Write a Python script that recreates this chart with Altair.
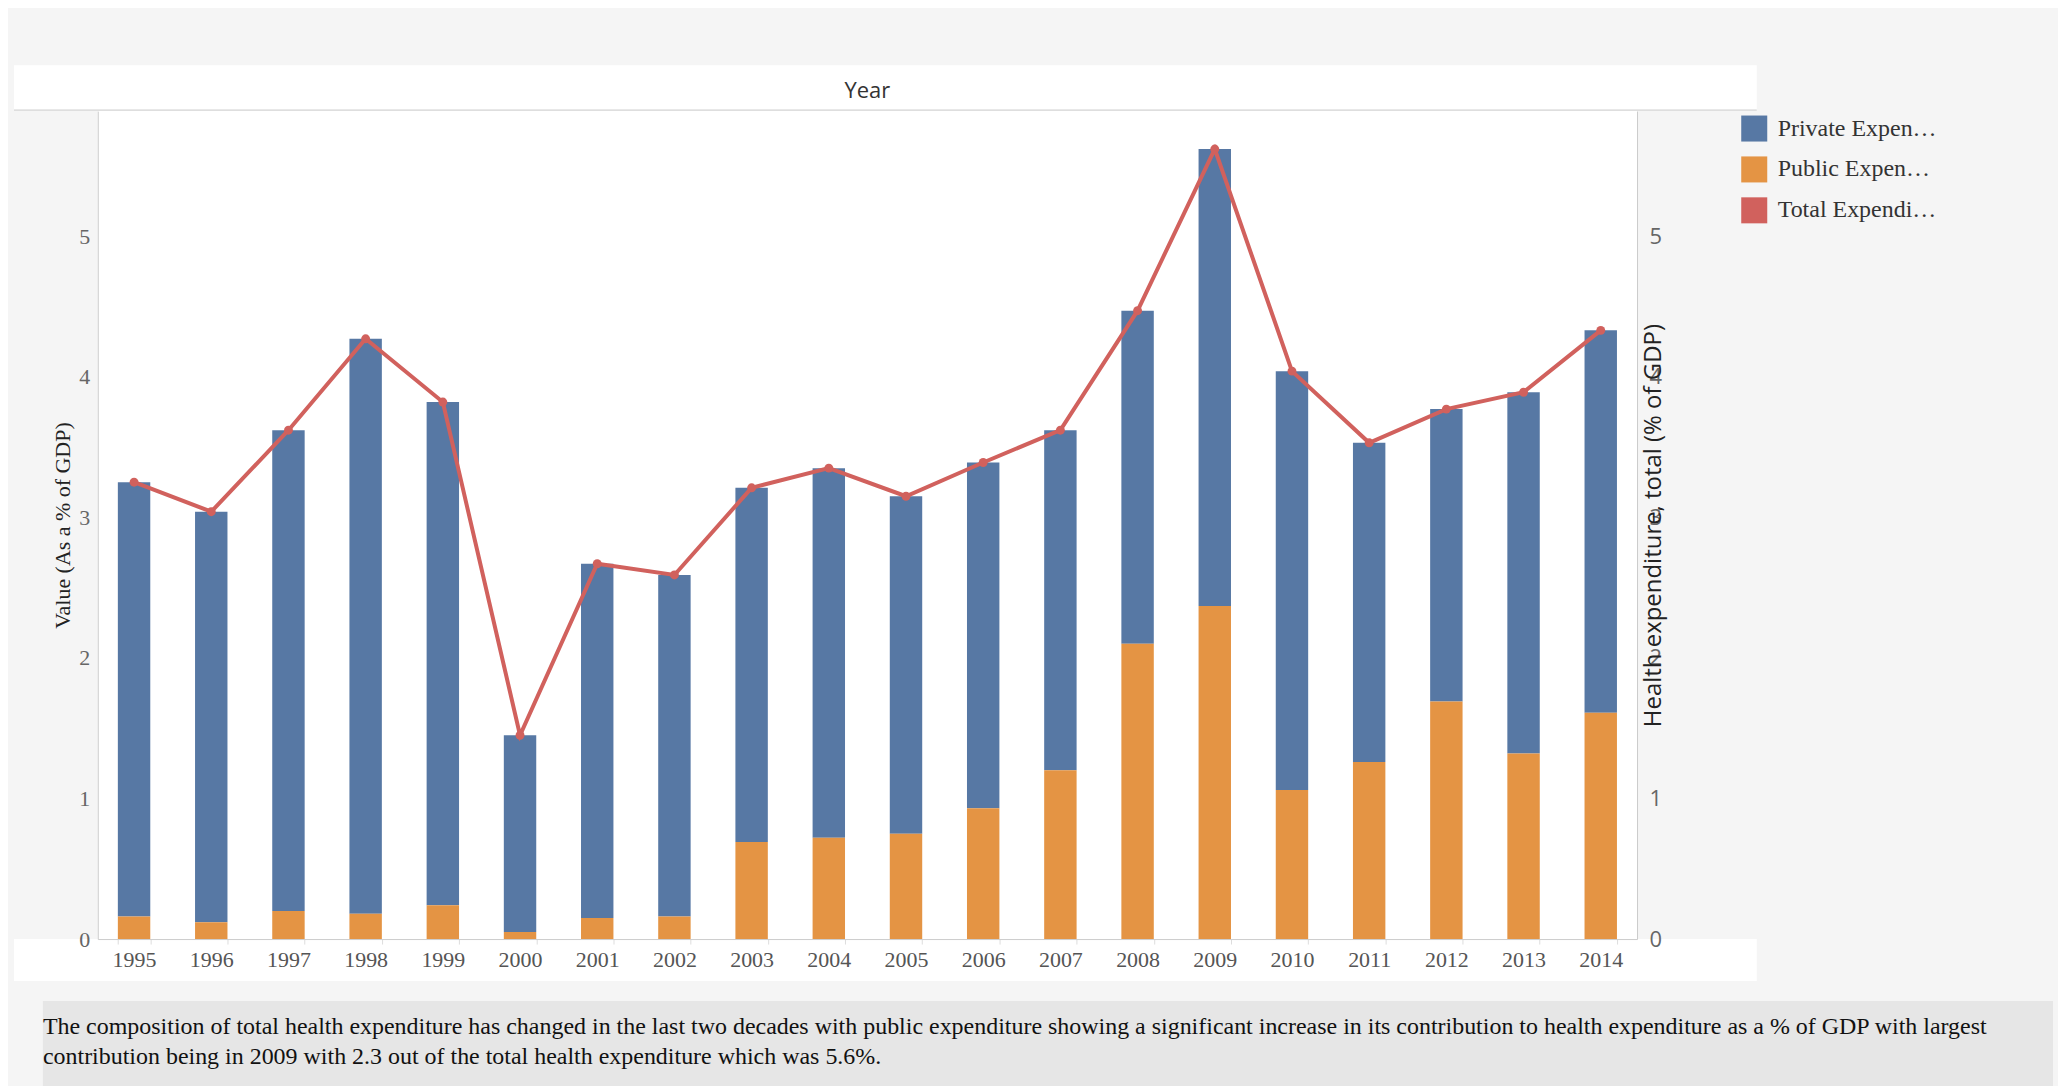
import altair as alt
import pandas as pd

years = [str(y) for y in range(1995, 2015)]
total = [3.25, 3.04, 3.62, 4.27, 3.82, 1.45, 2.67, 2.59, 3.21, 3.35,
         3.15, 3.39, 3.62, 4.47, 5.62, 4.04, 3.53, 3.77, 3.89, 4.33]
public = [0.16, 0.12, 0.20, 0.18, 0.24, 0.05, 0.15, 0.16, 0.69, 0.72,
          0.75, 0.93, 1.20, 2.10, 2.37, 1.06, 1.26, 1.69, 1.32, 1.61]
private = [round(t - p, 2) for t, p in zip(total, public)]
caption = [
    "The composition of total health expenditure has changed in the last two decades with public expenditure showing a significant increase in its contribution to health expenditure as a % of GDP with largest",
    "contribution being in 2009 with 2.3 out of the total health expenditure which was 5.6%.",
]

SERIES = ["Private Expenditure", "Public Expenditure", "Total Expenditure"]
COLORS = ["#5778a4", "#e49444", "#d1615d"]

bars_df = pd.DataFrame({
    "Year": years * 2,
    "series": ["Private Expenditure"] * 20 + ["Public Expenditure"] * 20,
    "value": private + public,
    "order": [2] * 20 + [1] * 20,
})
line_df = pd.DataFrame({"Year": years, "series": "Total Expenditure", "value": total})

W, H = 1543, 830
YMAX = 5.89
SERIF = "Liberation Serif"
SANS = "Open Sans"
one = pd.DataFrame({"t": ["Year"]})

color = alt.Color(
    "series:N",
    scale=alt.Scale(domain=SERIES, range=COLORS),
    legend=alt.Legend(
        title=None, orient="none", legendX=W + 104, legendY=4,
        symbolType="square", symbolSize=680, labelFont=SERIF, labelFontSize=24,
        labelColor="#333", rowPadding=14, symbolStrokeWidth=0, labelOffset=10,
    ),
)
xenc = alt.X(
    "Year:N",
    scale=alt.Scale(paddingInner=0.58, paddingOuter=0.26),
    axis=alt.Axis(title=None, labelAngle=0, labelFont=SERIF, labelFontSize=22,
                  labelColor="#555", domainColor="#ccc", tickColor="#ddd",
                  tickBand="extent", labelPadding=6, zindex=2),
)
yscale = alt.Scale(domain=[0, YMAX], nice=False)

# white backdrops for the header and the axis-label strip, plus the caption box
header = alt.Chart(one).mark_rect(color="white").encode(
    x=alt.value(-84), x2=alt.value(W + 120), y=alt.value(-46), y2=alt.value(-1))
header_line = alt.Chart(one).mark_rule(color="#ccc").encode(
    x=alt.value(-84), x2=alt.value(W + 120), y=alt.value(-1))
bottom = alt.Chart(one).mark_rect(color="white").encode(
    x=alt.value(-84), x2=alt.value(W + 120), y=alt.value(H), y2=alt.value(H + 42))
header_text = alt.Chart(one).mark_text(font=SANS, fontSize=22, color="#333").encode(
    text="t:N", x=alt.value(W / 2), y=alt.value(-20))
cap_box = alt.Chart(one).mark_rect(color="#e6e6e6").encode(
    x=alt.value(-55), x2=alt.value(1960), y=alt.value(H + 62), y2=alt.value(H + 151))
cap_text = alt.Chart(pd.DataFrame({"t": [caption]})).mark_text(
    font=SERIF, fontSize=24, color="#111", align="left", baseline="top", lineHeight=30).encode(
    text="t", x=alt.value(-55), y=alt.value(H + 76))

bars = alt.Chart(bars_df).mark_bar().encode(
    x=xenc,
    y=alt.Y("value:Q", stack="zero", scale=yscale,
            axis=alt.Axis(title="Value (As a % of GDP)", values=[0, 1, 2, 3, 4, 5],
                          grid=False, ticks=False, labelFont=SERIF, labelFontSize=22,
                          labelColor="#666", titleFont=SERIF, titleFontSize=22,
                          titleFontWeight="normal", titleColor="#222",
                          domainColor="#ccc", labelPadding=8, zindex=2)),
    color=color,
    order=alt.Order("order:Q"),
)
line = alt.Chart(line_df).mark_line(strokeWidth=4, point=alt.OverlayMarkDef(size=80, filled=True)).encode(
    x=alt.X("Year:N"),
    y=alt.Y("value:Q", scale=yscale,
            axis=alt.Axis(title="Health expenditure, total (% of GDP)", orient="right",
                          values=[0, 1, 2, 3, 4, 5], grid=False, ticks=False,
                          labelFont=SANS, labelFontSize=22, labelColor="#666",
                          titleFont=SANS, titleFontSize=24, titleFontWeight="normal",
                          titleAngle=270, titleColor="#222", domainColor="#ccc",
                          labelPadding=12, zindex=2)),
    color=color,
)

chart = alt.layer(header, header_line, bottom, header_text, cap_box, cap_text, bars, line).resolve_scale(
    y="independent").properties(
    width=W, height=H, background="#f5f5f5",
    padding={"top": 56, "left": 5, "right": 5, "bottom": 5},
    view=alt.ViewBackground(fill="white", stroke=None),
).configure_view(strokeWidth=0)

chart.save("out.html", embed_options={"renderer": "svg", "actions": False})
